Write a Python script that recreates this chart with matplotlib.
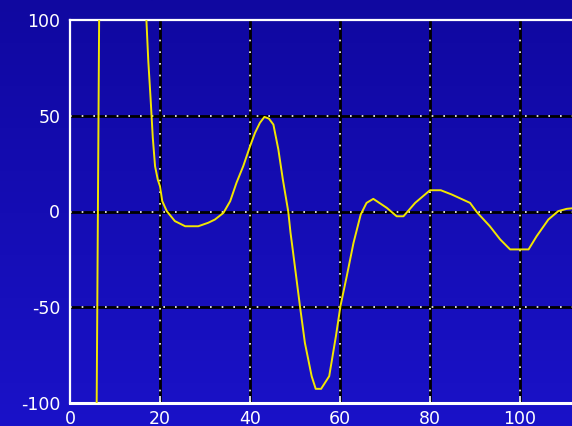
import numpy as np
import matplotlib
matplotlib.use("Agg")
import matplotlib.pyplot as plt

# Response curve samples (x position, value); NaN separates the two branches
x_vals = [5.9, 6.5, np.nan,
          16.9, 17.4, 17.9, 18.4, 18.9, 19.5, 20.0, 20.5, 21.5, 23.3, 25.6,
          28.5, 30.7, 32.2, 34.1, 35.6, 37.0, 38.5, 40.0, 41.1, 42.2, 43.2,
          44.2, 45.2, 46.3, 47.3, 48.5, 49.0, 49.5, 51.1, 52.2, 53.7, 54.6, 55.8,
          57.6, 59.1, 60.1, 61.5, 63.0, 64.6, 65.9, 67.4, 70.4, 72.6, 74.1,
          76.7, 80.0, 82.4, 84.8, 88.9, 90.4, 93.3, 95.6, 97.8, 101.9, 103.7,
          106.3, 108.5, 110.4, 113.0]
y_vals = [-110, 110, np.nan,
          104, 78.5, 59.4, 38.5, 23.7, 16.7, 13.2, 5.4, 0.2, -5.0, -7.7,
          -7.7, -5.9, -4.2, -0.7, 5.4, 15.0, 23.7, 34.0, 41.0, 46.3, 49.4,
          48.5, 45.4, 32.4, 16.7, 0.0, -11.0, -20.0, -49.4, -68.6, -86.0, -92.6, -92.6,
          -86.0, -65.0, -49.4, -33.8, -16.4, -1.6, 4.5, 6.6, 1.9, -2.5, -2.5,
          4.5, 11.1, 11.1, 8.9, 4.5, -0.3, -7.7, -14.6, -19.8, -19.8, -12.9,
          -4.2, 0.2, 1.4, 2.0]

x_ticks = [0, 20, 40, 60, 80, 100]
y_ticks = [-100, -50, 0, 50, 100]

W, H = 572, 426
fig = plt.figure(figsize=(W / 100, H / 100), dpi=100)

# Vertical blue gradient behind everything
bg = fig.add_axes([0, 0, 1, 1], zorder=0)
grad = np.linspace(0, 1, 256).reshape(-1, 1)
top_c = np.array([16, 8, 160]) / 255
bot_c = np.array([26, 18, 200]) / 255
img = top_c + (bot_c - top_c) * grad[:, :, None] * np.ones((1, 2, 1))
bg.imshow(img, aspect="auto", extent=[0, 1, 0, 1], origin="upper")
bg.set_axis_off()

ax = fig.add_axes([70 / W, 23 / H, 540 / W, 383 / H], zorder=1)
ax.set_facecolor("none")
ax.set_xlim(0, 120)
ax.set_ylim(-100, 100)

# Grid: black line with white dots on top
for xv in x_ticks[1:] + [120]:
    ax.axvline(xv, color="black", lw=2.0, zorder=1)
    ax.axvline(xv, color="white", lw=1.2, ls=(0, (1, 6)), zorder=2)
for yv in y_ticks[1:-1]:
    ax.axhline(yv, color="black", lw=2.0, zorder=1)
    ax.axhline(yv, color="white", lw=1.2, ls=(0, (1, 6)), zorder=2)

ax.plot(x_vals, y_vals, color="#f2e600", lw=1.4, zorder=3)

ax.set_xticks(x_ticks)
ax.set_yticks(y_ticks)
ax.set_xticklabels([str(v) for v in x_ticks])
ax.set_yticklabels([str(v) for v in y_ticks])
ax.tick_params(axis="both", direction="in", length=5, width=1.2, color="white",
               labelcolor="white", labelsize=12.5)
ax.tick_params(axis="x", pad=5)
ax.tick_params(axis="y", pad=7, length=0)

for side in ["left", "top"]:
    ax.spines[side].set_color("white")
    ax.spines[side].set_linewidth(1.6)
ax.spines["bottom"].set_color("white")
ax.spines["bottom"].set_linewidth(2.2)
ax.spines["right"].set_visible(False)

fig.savefig("out.png", dpi=100)
